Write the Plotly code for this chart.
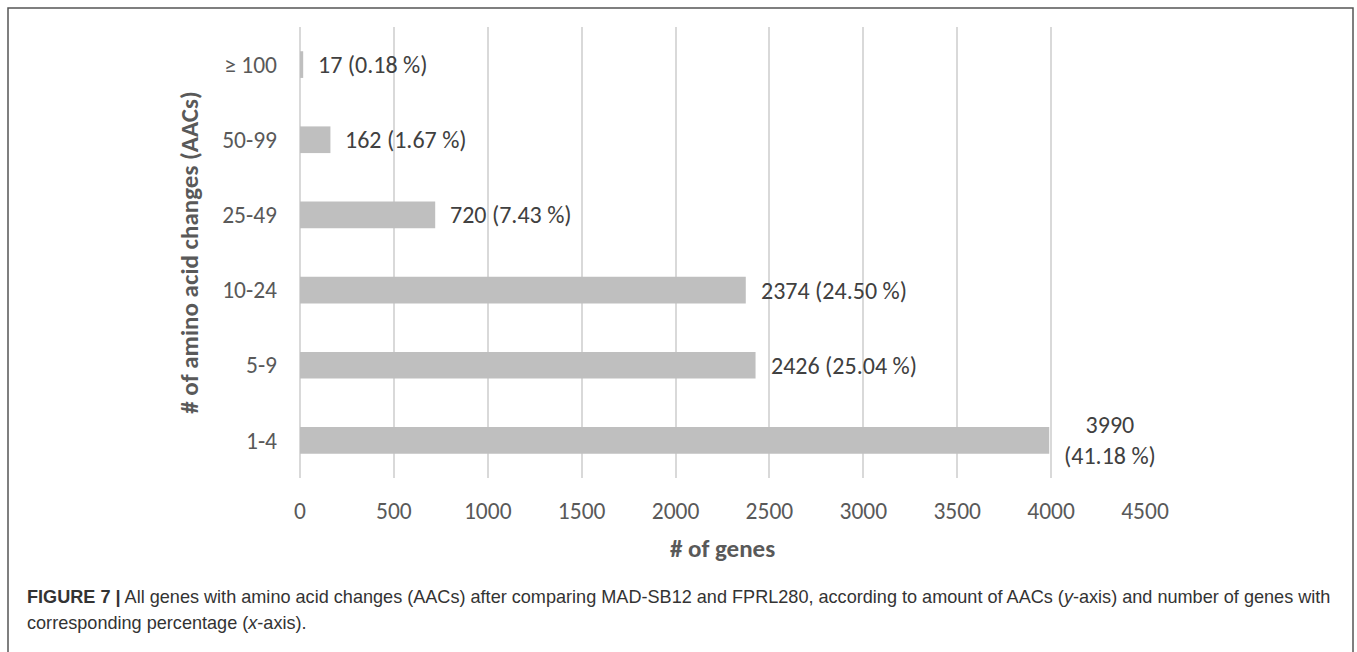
import plotly.graph_objects as go

categories = ["1-4", "5-9", "10-24", "25-49", "50-99", "≥ 100"]
gene_counts = [3990, 2426, 2374, 720, 162, 17]
percentages = ["41.18", "25.04", "24.50", "7.43", "1.67", "0.18"]
x_ticks = [0, 500, 1000, 1500, 2000, 2500, 3000, 3500, 4000, 4500]

W, H = 1357, 652
L, R, T, B = 300, 1145, 27, 478  # plot area in pixels

FONT = "Carlito, Lato, sans-serif"

def px(xp):
    return (xp - L) / (R - L)

def py(yp):
    return (B - yp) / (B - T)

fig = go.Figure()
fig.add_trace(go.Bar(
    y=categories, x=gene_counts, orientation="h",
    marker=dict(color="#bfbfbf", line=dict(width=0)),
    width=0.355, hoverinfo="skip",
))

annotations = []
for cat, cnt, pct in zip(categories, gene_counts, percentages):
    if cnt == max(gene_counts):
        text = f"{cnt}<br>({pct} %)"
    else:
        text = f"{cnt} ({pct} %)"
    annotations.append(dict(
        x=cnt, y=cat, xref="x", yref="y", text=text, showarrow=False,
        xanchor="left", yanchor="middle", xshift=13, align="center",
        font=dict(family=FONT, size=24, color="#404040"),
    ))

annotations.append(dict(
    x=px(25), y=py(597), xref="paper", yref="paper", showarrow=False,
    xanchor="left", yanchor="middle", align="left",
    text="<b>FIGURE 7 |</b> All genes with amino acid changes (AACs) after comparing MAD-SB12 and FPRL280, according to amount of AACs (<i>y</i>-axis) and number of genes with",
    font=dict(family="Liberation Sans, Arial, sans-serif", size=18.1, color="#333333"),
))
annotations.append(dict(
    x=px(25), y=py(623), xref="paper", yref="paper", showarrow=False,
    xanchor="left", yanchor="middle", align="left",
    text="corresponding percentage (<i>x</i>-axis).",
    font=dict(family="Liberation Sans, Arial, sans-serif", size=18.1, color="#333333"),
))

fig.add_shape(type="rect", xref="paper", yref="paper",
              x0=px(8), x1=px(1353), y0=py(660), y1=py(8),
              line=dict(color="#555555", width=1.5), fillcolor="rgba(0,0,0,0)", layer="below")

fig.update_layout(
    width=W, height=H,
    margin=dict(l=L, r=W - R, t=T, b=H - B, pad=0),
    paper_bgcolor="white", plot_bgcolor="white",
    showlegend=False,
    annotations=annotations,
    xaxis=dict(
        range=[0, 4500], tickvals=x_ticks, ticktext=[str(v) for v in x_ticks],
        showgrid=True, gridcolor="#d9d9d9", gridwidth=1.5,
        zeroline=True, zerolinecolor="#d9d9d9", zerolinewidth=1.5,
        showline=False, ticks="", ticklabelstandoff=16,
        tickfont=dict(family=FONT, size=23.5, color="#595959"),
        title=dict(text="<b># of genes</b>", standoff=15,
                   font=dict(family=FONT, size=25, color="#595959")),
        fixedrange=True,
    ),
    yaxis=dict(
        categoryorder="array", categoryarray=categories,
        range=[-0.5, 5.5], showgrid=False, showline=False, zeroline=False,
        ticks="", ticklabelstandoff=22,
        tickfont=dict(family=FONT, size=23.5, color="#595959"),
        title=dict(text="<b># of amino acid changes (AACs)</b>", standoff=16,
                   font=dict(family=FONT, size=25, color="#595959")),
        fixedrange=True,
    ),
)

fig.write_html("out.html")
